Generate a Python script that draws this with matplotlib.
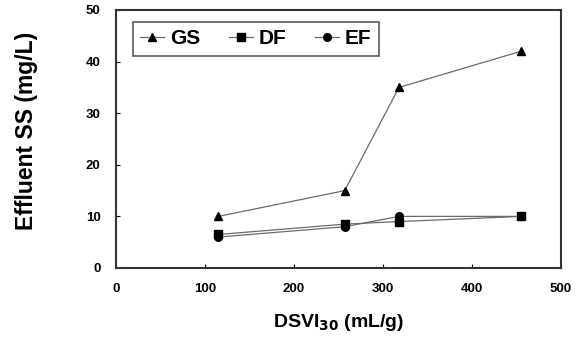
import matplotlib.pyplot as plt

plt.rcParams['font.family'] = ['Liberation Sans', 'DejaVu Sans']

dsvi = [115, 257, 318, 455]
gs = [10, 15, 35, 42]
df_ss = [6.5, 8.5, 9, 10]
ef_ss = [6, 8, 10, 10]

fig = plt.figure(figsize=(5.81, 3.41), dpi=100)
ax = fig.add_axes([116 / 581, 1 - 268 / 341, (561 - 116) / 581, (268 - 10) / 341])

line_kw = dict(color='#6a6a6a', lw=0.9, markerfacecolor='black', markeredgecolor='black')
ax.plot(dsvi, gs, marker='^', markersize=5.5, label='GS', **line_kw)
ax.plot(dsvi, df_ss, marker='s', markersize=5.5, label='DF', **line_kw)
ax.plot(dsvi, ef_ss, marker='o', markersize=5.5, label='EF', **line_kw)

ax.set_xlim(0, 500)
ax.set_ylim(0, 50)
ax.set_xticks([0, 100, 200, 300, 400, 500])
ax.set_yticks([0, 10, 20, 30, 40, 50])
ax.tick_params(direction='in', length=3, width=0.8, labelsize=9.5, pad=11)
for lab in ax.get_xticklabels() + ax.get_yticklabels():
    lab.set_fontweight('bold')
for s in ax.spines.values():
    s.set_linewidth(1.5)
    s.set_color('#333333')

ax.set_xlabel('DSVI$_{\\mathbf{30}}$ (mL/g)', fontsize=14, fontweight='bold')
ax.set_ylabel('Effluent SS (mg/L)', fontsize=16.5, fontweight='bold')
ax.xaxis.set_label_coords(0.5, -0.17)
ax.yaxis.set_label_coords(-0.175, 0.53)

leg = ax.legend(loc='upper left', bbox_to_anchor=(0.038, 0.953), ncol=3, frameon=True,
                fancybox=False, edgecolor='#333333', handlelength=1.15, columnspacing=1.35,
                handletextpad=0.3, borderpad=0.35, borderaxespad=0,
                prop={'weight': 'bold', 'size': 15})
leg.get_frame().set_linewidth(1.2)

fig.savefig('out.png', dpi=100)
